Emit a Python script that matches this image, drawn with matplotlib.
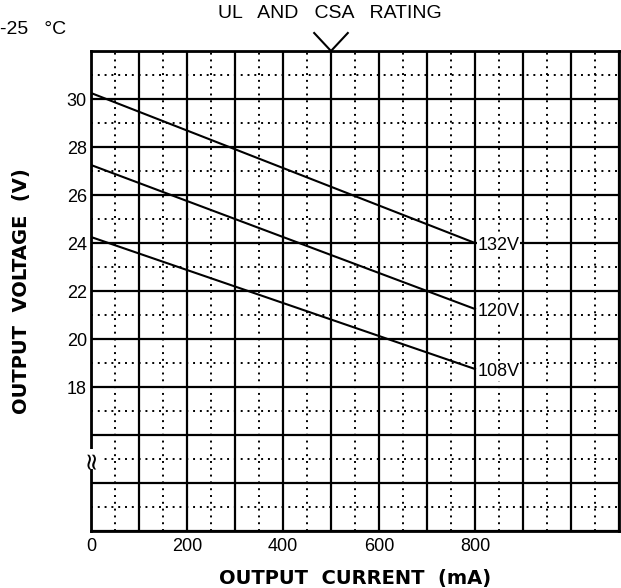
import matplotlib
matplotlib.use("Agg")
import matplotlib.pyplot as plt
from matplotlib import font_manager
from matplotlib.ticker import MultipleLocator

names = {f.name for f in font_manager.fontManager.ttflist}
narrow = "Liberation Sans Narrow" if "Liberation Sans Narrow" in names else "Liberation Sans"
plt.rcParams['font.family'] = [narrow, 'DejaVu Sans']

# data: output voltage vs current for three line voltages
current = [0, 800]
v132 = [30.25, 24.0]
v120 = [27.25, 21.25]
v108 = [24.25, 18.75]
series = [("132V", v132), ("120V", v120), ("108V", v108)]
ytick_vals = [18, 20, 22, 24, 26, 28, 30]
xtick_vals = [0, 200, 400, 600, 800]

fig = plt.figure(figsize=(6.21, 5.88), dpi=100)
ax = fig.add_axes([91/621, 1-531/588, 528/621, 480/588])

ax.set_xlim(0, 1100)
ax.set_ylim(12, 32)

ax.xaxis.set_major_locator(MultipleLocator(100))
ax.xaxis.set_minor_locator(MultipleLocator(50))
ax.yaxis.set_major_locator(MultipleLocator(2))
ax.yaxis.set_minor_locator(MultipleLocator(1))
ax.grid(which='major', color='black', lw=1.6)
ax.grid(which='minor', color='black', lw=1.4, linestyle=(0, (1, 2.5)))
ax.set_axisbelow(True)

ax.set_xticks(xtick_vals + [100, 300, 500, 700, 900, 1000, 1100])
ax.set_xticklabels([str(v) for v in xtick_vals] + [""] * 7)
ax.set_yticks(list(range(12, 33, 2)))
ax.set_yticklabels([str(v) if v in ytick_vals else "" for v in range(12, 33, 2)])
ax.tick_params(which='both', length=0, labelsize=13)
ax.tick_params(axis='x', pad=5)
ax.tick_params(axis='y', pad=3)

for s in ax.spines.values():
    s.set_linewidth(2)
    s.set_color('black')

for name, vals in series:
    ax.plot(current, vals, color='black', lw=1.5, zorder=3)
    ax.text(current[-1] + 5, vals[-1] - 0.1, name, fontsize=13, ha='left', va='center',
            zorder=4, bbox=dict(facecolor='white', edgecolor='none', pad=0.5))

# break mark on the y axis
ax.text(0, 15, "≈", rotation=90, fontsize=17, ha='center', va='center',
        family='DejaVu Sans', clip_on=False, zorder=5,
        bbox=dict(facecolor='white', edgecolor='none', pad=0))

# rating marker at 500 mA
ax.plot([465, 500, 535], [32.75, 32, 32.75], color='black', lw=1.5, clip_on=False)
fig.text(330/621, 1-14/588, "UL   AND   CSA   RATING", fontsize=14, ha='center', va='center')
fig.text(0, 1-30/588, "-25   °C", fontsize=14, ha='left', va='center')

ax.set_xlabel("OUTPUT  CURRENT  (mA)", fontsize=14, fontweight='bold', family='DejaVu Sans', labelpad=10)
ax.set_ylabel("OUTPUT  VOLTAGE  (V)", fontsize=14, fontweight='bold', family='DejaVu Sans', labelpad=26)

fig.savefig("out.png", dpi=100)
